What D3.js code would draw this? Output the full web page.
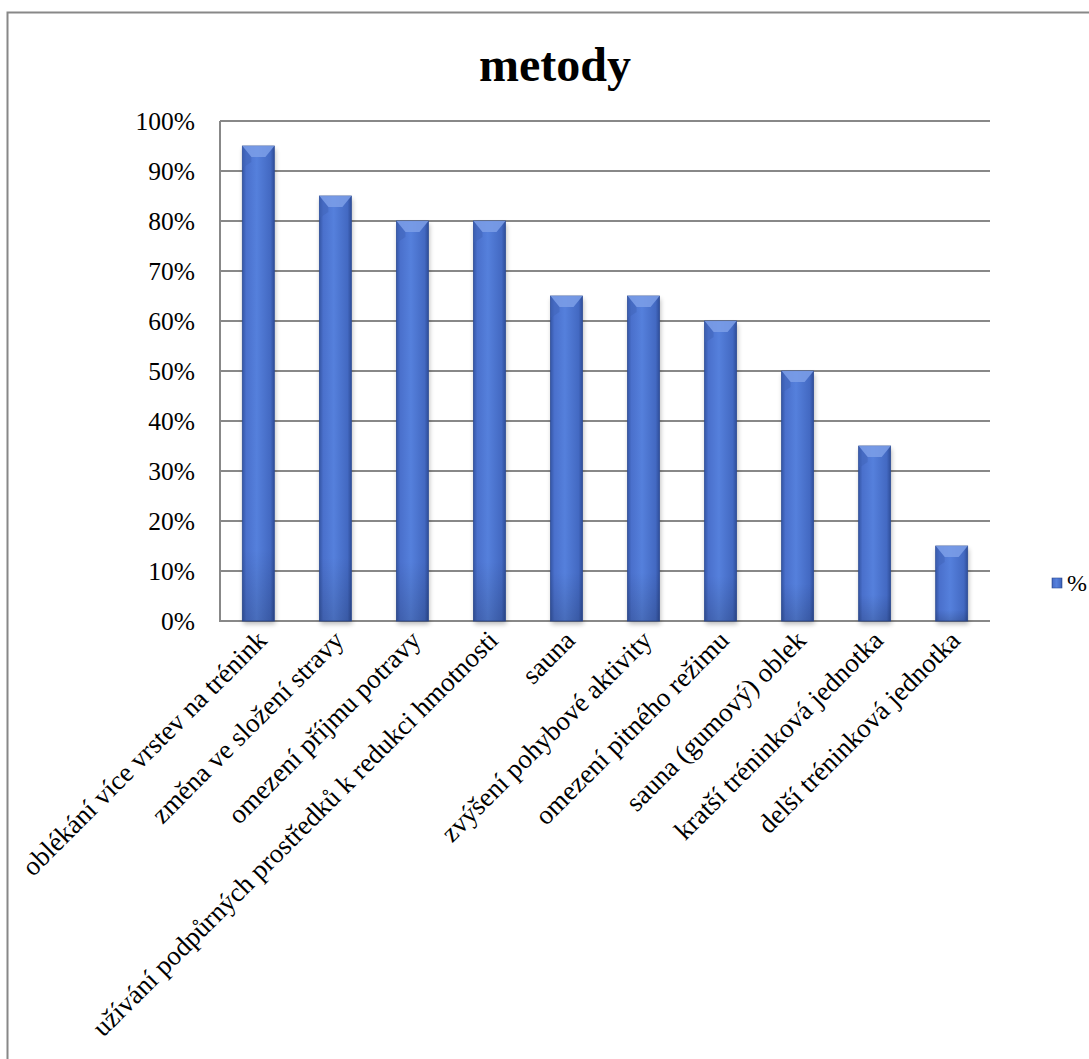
<!DOCTYPE html>
<html><head><meta charset="utf-8">
<script src="https://cdn.jsdelivr.net/npm/d3@7"></script>
<style>body{margin:0;background:#fff}svg{display:block}text{font-family:"Liberation Serif","Times New Roman",serif;fill:#000}</style>
</head><body>
<script>
const title = "metody";
const categories = ["oblékání více vrstev na trénink","změna ve složení stravy","omezení příjmu potravy","užívání podpůrných prostředků k redukci hmotnosti","sauna","zvýšení pohybové aktivity","omezení pitného režimu","sauna (gumový) oblek","kratší tréninková jednotka","delší tréninková jednotka"];
const values = [95,85,80,80,65,65,60,50,35,15];
const yTicks = [0,10,20,30,40,50,60,70,80,90,100];
const seriesName = "%";

const W=1089,H=1059;
const svg=d3.select("body").append("svg").attr("width",W).attr("height",H);
const defs=svg.append("defs");
const g1=defs.append("linearGradient").attr("id","barg").attr("x1","0").attr("x2","1").attr("y1","0").attr("y2","0");
g1.append("stop").attr("offset","0").attr("stop-color","#3556a6");
g1.append("stop").attr("offset","0.12").attr("stop-color","#4a70cc");
g1.append("stop").attr("offset","0.45").attr("stop-color","#5580dc");
g1.append("stop").attr("offset","0.88").attr("stop-color","#4369c2");
g1.append("stop").attr("offset","1").attr("stop-color","#2f4e9a");
const g2=defs.append("linearGradient").attr("id","barv").attr("x1","0").attr("x2","0").attr("y1","0").attr("y2","1");
g2.append("stop").attr("offset","0").attr("stop-color","#000").attr("stop-opacity","0");
g2.append("stop").attr("offset","0.85").attr("stop-color","#000").attr("stop-opacity","0");
g2.append("stop").attr("offset","1").attr("stop-color","#000").attr("stop-opacity","0.15");
const f=defs.append("filter").attr("id","sh").attr("x","-30%").attr("y","-10%").attr("width","160%").attr("height","130%");
f.append("feGaussianBlur").attr("stdDeviation","2.5");

svg.append("rect").attr("x",7.5).attr("y",12.5).attr("width",1200).attr("height",1200).attr("fill","none").attr("stroke","#888").attr("stroke-width",2);

const m={l:220,r:990,t:121,b:621};
const x=d3.scaleBand().domain(categories).range([m.l,m.r]).paddingInner(0.585).paddingOuter(0.29);
const y=d3.scaleLinear().domain([0,100]).range([m.b,m.t]);

svg.append("text").attr("x",555).attr("y",81).attr("text-anchor","middle").style("font-size","48px").style("font-weight","bold").text(title);

const grid=svg.append("g");
grid.selectAll("line").data(yTicks).join("line")
 .attr("x1",m.l).attr("x2",m.r).attr("y1",d=>y(d)).attr("y2",d=>y(d))
 .attr("stroke","#888").attr("stroke-width",2);
svg.append("line").attr("x1",m.l).attr("x2",m.l).attr("y1",m.t).attr("y2",m.b+1).attr("stroke","#888").attr("stroke-width",2);

const yAxis=svg.append("g").attr("transform",`translate(${m.l},0)`)
 .call(d3.axisLeft(y).tickValues(yTicks).tickFormat(d=>d+"%").tickSize(0).tickPadding(25));
yAxis.select(".domain").remove();
yAxis.selectAll("text").style("font-size","25.5px").style("font-family","'Liberation Serif',serif").attr("dy","0.35em");

const bars=svg.append("g");
const bw=x.bandwidth();
bars.selectAll("rect.sh").data(values).join("rect").attr("class","sh")
 .attr("x",(d,i)=>x(categories[i])+1).attr("y",d=>y(d)+3).attr("width",bw).attr("height",d=>y(0)-y(d))
 .attr("fill","#000").attr("opacity",0.28).attr("filter","url(#sh)");
bars.selectAll("rect.b").data(values).join("rect").attr("class","b")
 .attr("x",(d,i)=>x(categories[i])).attr("y",d=>y(d)).attr("width",bw).attr("height",d=>y(0)-y(d))
 .attr("fill","url(#barg)").attr("stroke","#2e4d96").attr("stroke-width",0.8);
bars.selectAll("rect.v").data(values).join("rect").attr("class","v")
 .attr("x",(d,i)=>x(categories[i])).attr("y",d=>y(d)).attr("width",bw).attr("height",d=>y(0)-y(d))
 .attr("fill","url(#barv)");
bars.selectAll("path.bev").data(values).join("path").attr("class","bev")
 .attr("d",(d,i)=>{const x0=x(categories[i]),yy=y(d);return `M${x0},${yy}L${x0+bw},${yy}L${x0+bw*0.72},${yy+11}L${x0+bw*0.28},${yy+11}Z`;})
 .attr("fill","#7d9fe8").attr("opacity",0.85);
bars.selectAll("path.bevl").data(values).join("path").attr("class","bevl")
 .attr("d",(d,i)=>{const x0=x(categories[i]),yy=y(d);return `M${x0},${yy}L${x0+bw*0.28},${yy+11}L${x0+bw*0.28},${yy+16}L${x0},${yy+22}Z`;})
 .attr("fill","#3f63b8").attr("opacity",0.5);

const lab=svg.append("g");
lab.selectAll("text").data(categories).join("text")
 .attr("transform",d=>`translate(${x(d)+bw/2+10},${m.b+21}) rotate(-45)`)
 .attr("text-anchor","end").style("font-size","27px").text(d=>d);

const lg=svg.append("g");
lg.append("rect").attr("x",1052).attr("y",578).attr("width",10).attr("height",10).attr("fill","url(#barg)").attr("stroke","#2e4d96").attr("stroke-width",0.6);
lg.append("text").attr("x",1067).attr("y",591).style("font-size","24px").text(seriesName);
</script>
</body></html>
